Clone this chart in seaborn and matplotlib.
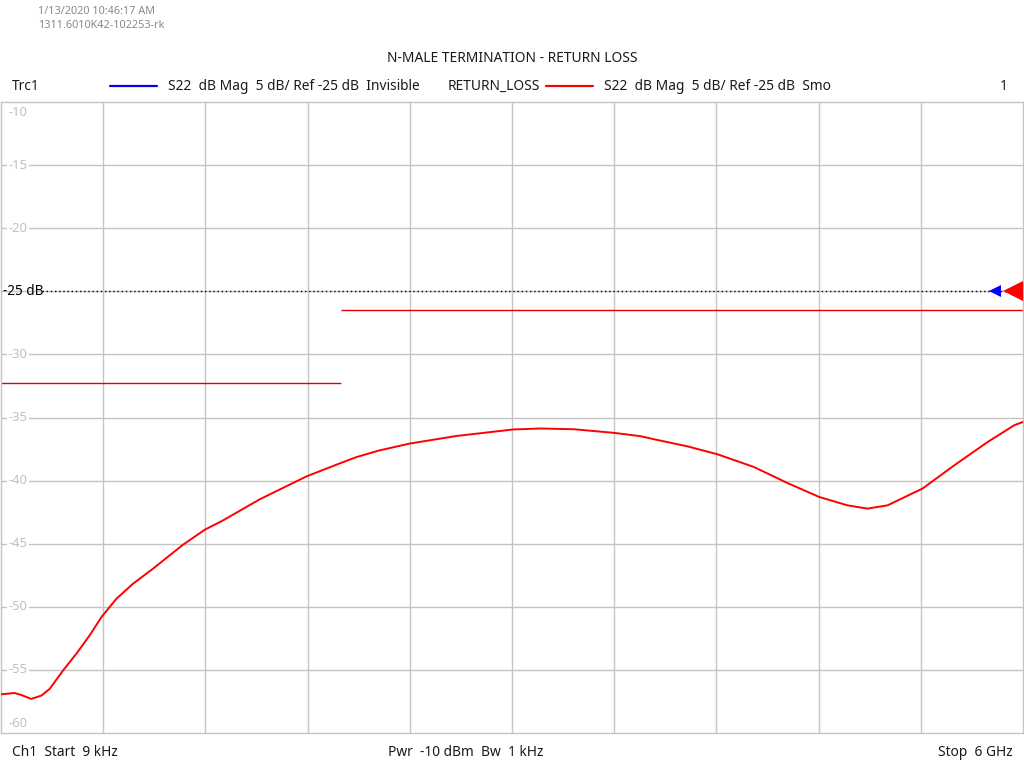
import numpy as np
import pandas as pd
import matplotlib
matplotlib.use("Agg")
import matplotlib.pyplot as plt
import matplotlib.transforms as mtransforms
import seaborn as sns

# ---------------- data ----------------
freq_ghz = [0.009, 0.088, 0.127, 0.186, 0.245, 0.294, 0.372, 0.450, 0.528, 0.597,
            0.685, 0.783, 0.900, 1.076, 1.204, 1.311, 1.526, 1.801, 1.996, 2.094,
            2.230, 2.407, 2.681, 3.010, 3.170, 3.366, 3.605, 3.757, 3.836, 4.031,
            4.208, 4.422, 4.619, 4.806, 4.971, 5.088, 5.206, 5.411, 5.597, 5.793,
            5.949, 6.000]
s22_db = [-56.94, -56.83, -56.98, -57.30, -57.04, -56.51, -55.06, -53.73, -52.28, -50.83,
          -49.37, -48.17, -46.98, -45.08, -43.89, -43.15, -41.48, -39.66, -38.63, -38.13,
          -37.60, -37.06, -36.46, -35.95, -35.87, -35.93, -36.22, -36.48, -36.72, -37.28,
          -37.91, -38.92, -40.19, -41.30, -41.96, -42.22, -41.96, -40.63, -38.79, -36.94,
          -35.61, -35.35]

limit_start_ghz = [0.009, 2.0]
limit_stop_ghz = [2.0, 6.0]
limit_db = [-32.3, -26.5]

y_ticks = [-10, -15, -20, -25, -30, -35, -40, -45, -50, -55, -60]
y_tick_labels = ["-10", "-15", "-20", "", "-30", "-35", "-40", "-45", "-50", "-55", "-60"]
ref_level = -25
freq_start, freq_stop = 0.009, 6.0
n_xdiv = 10

title = "N-MALE TERMINATION - RETURN LOSS"
stamp_lines = ["1/13/2020 10:46:17 AM", "1311.6010K42-102253-rk"]
trc_label = "Trc1"
trace1_desc = "S22  dB Mag  5 dB/ Ref -25 dB  Invisible"
trace2_name = "RETURN_LOSS"
trace2_desc = "S22  dB Mag  5 dB/ Ref -25 dB  Smo"
channel_no = "1"
footer_left = "Ch1  Start  9 kHz"
footer_mid = "Pwr  -10 dBm  Bw  1 kHz"
footer_right = "Stop  6 GHz"

# ---------------- style ----------------
sns.set_style("white")
FONT = ["Noto Sans", "DejaVu Sans"]
plt.rcParams["font.family"] = FONT

W, H = 1024, 768
fig = plt.figure(figsize=(W / 100, H / 100), dpi=100)
ax = fig.add_axes([1 / W, 1 - 733 / H, 1022 / W, (733 - 102) / H])

grid_c = "#c4c4c4"
ax.set_xlim(freq_start, freq_stop)
ax.set_ylim(-60, -10)
for k in range(1, n_xdiv):
    ax.axvline(freq_start + (freq_stop - freq_start) * k / n_xdiv, color=grid_c, lw=1.0, zorder=0)
for t in y_ticks[1:-1]:
    ax.axhline(t, color=grid_c, lw=1.0, zorder=0)
for s in ax.spines.values():
    s.set_color(grid_c)
    s.set_linewidth(1.0)
ax.set_xticks([])
ax.set_yticks([])

blend = mtransforms.blended_transform_factory(ax.transAxes, ax.transData)
for t, lab in zip(y_ticks, y_tick_labels):
    if not lab:
        continue
    va = "center"
    off = 0
    if t == -10:
        va, off = "top", -0.3
    elif t == -60:
        va, off = "bottom", 0.25
    ax.text(0.0075, t + off, lab, transform=blend, ha="left", va=va, color="#c0c0c0",
            fontsize=9.3, zorder=3,
            bbox=dict(facecolor="white", edgecolor="none", pad=1.0))

# reference line
ax.axhline(ref_level, xmin=0.04, color="black", lw=1.0, ls=(0, (1, 2)), zorder=2)
ax.text(0.002, ref_level, "-25 dB", transform=blend, ha="left", va="center",
        color="black", fontsize=9.8, zorder=3)
ax.plot([0.9725], [ref_level], marker="<", ms=9, color="#0000ff", transform=blend,
        clip_on=False, zorder=4, markeredgewidth=0)
ax.plot([0.99], [ref_level], marker="<", ms=14, color="#ff0000", transform=blend,
        clip_on=False, zorder=4, markeredgewidth=0)

# limit lines
for a, b, v in zip(limit_start_ghz, limit_stop_ghz, limit_db):
    ax.hlines(v, a if a > freq_start else freq_start - 0.01, b, color="#e00000", lw=1.0, zorder=2)

# trace
df = pd.DataFrame({"f": freq_ghz, "db": s22_db})
sns.lineplot(data=df, x="f", y="db", ax=ax, color="#ff0000", lw=1.4, zorder=5,
             estimator=None, sort=False)
ax.set_xlabel("")
ax.set_ylabel("")
ax.set_xlim(freq_start, freq_stop)
ax.set_ylim(-60, -10)

# ---------------- header / footer text ----------------
def px(x, y):
    return x / W, 1 - y / H

txt_c = "#1a1a1a"
FS = 9.9
fig.text(*px(38, 11), stamp_lines[0], color="#8a8a8a", fontsize=7.8, va="center", ha="left")
fig.text(*px(38, 25), stamp_lines[1], color="#8a8a8a", fontsize=7.8, va="center", ha="left")
fig.text(*px(512, 58), title, color=txt_c, fontsize=FS, va="center", ha="center")

ly = 86
fig.text(*px(12, ly), trc_label, color=txt_c, fontsize=FS, va="center")
fig.add_artist(plt.Line2D([110 / W, 157 / W], [1 - ly / H] * 2, color="#0000ff", lw=1.6))
fig.text(*px(168, ly), trace1_desc, color=txt_c, fontsize=FS, va="center")
fig.text(*px(448, ly), trace2_name, color=txt_c, fontsize=FS, va="center")
fig.add_artist(plt.Line2D([546 / W, 593 / W], [1 - ly / H] * 2, color="#ff0000", lw=1.6))
fig.text(*px(604, ly), trace2_desc, color=txt_c, fontsize=FS, va="center")
fig.text(*px(1008, ly), channel_no, color=txt_c, fontsize=FS, va="center", ha="right")

fy = 752
fig.text(*px(12, fy), footer_left, color=txt_c, fontsize=FS, va="center")
fig.text(*px(388, fy), footer_mid, color=txt_c, fontsize=FS, va="center")
fig.text(*px(1013, fy), footer_right, color=txt_c, fontsize=FS, va="center", ha="right")

fig.savefig("out.png", dpi=100, facecolor="white")
